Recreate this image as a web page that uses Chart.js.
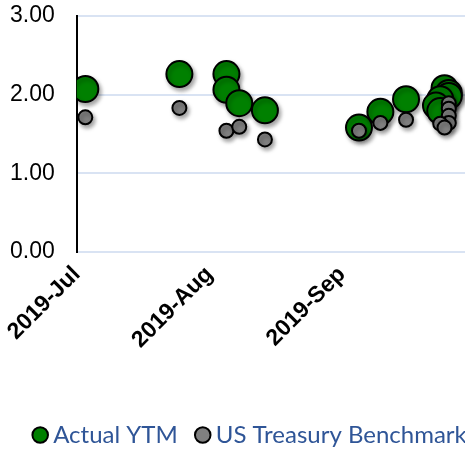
<!DOCTYPE html>
<html>
<head>
<meta charset="utf-8">
<script src="https://cdn.jsdelivr.net/npm/chart.js@4.4.1/dist/chart.umd.min.js"></script>
<style>
  html, body { margin: 0; padding: 0; background: #fff; overflow: hidden; }
  #wrap { width: 465px; height: 450px; overflow: hidden; }
</style>
</head>
<body>
<div id="wrap"><canvas id="chart" width="498" height="450"></canvas></div>
<script>
// ── Axis ticks: first day of each month, counted in days from 2019-07-01
const MONTH_TICKS  = [0, 31, 62];
const MONTH_LABELS = ['2019-Jul', '2019-Aug', '2019-Sep'];
const Y_TICKS      = [0, 1, 2, 3];

// ── Actual YTM (green)
const ytmDates = [
  '2019-07-03', '2019-07-25', '2019-08-05', '2019-08-05', '2019-08-08', '2019-08-14',
  '2019-09-05', '2019-09-10', '2019-09-16',
  '2019-09-25', '2019-09-26', '2019-09-26', '2019-09-24', '2019-09-23', '2019-09-24'
];
const ytmValues = [
  2.07, 2.26, 2.26, 2.06, 1.89, 1.80,
  1.58, 1.78, 1.94,
  2.08, 2.02, 1.98, 1.94, 1.86, 1.79
];

// ── US Treasury Benchmark (grey)
const ustDates = [
  '2019-07-03', '2019-07-25', '2019-08-05', '2019-08-08', '2019-08-14',
  '2019-09-05', '2019-09-10', '2019-09-16',
  '2019-09-26', '2019-09-26', '2019-09-26', '2019-09-26', '2019-09-24', '2019-09-25'
];
const ustValues = [
  1.71, 1.83, 1.54, 1.59, 1.43,
  1.54, 1.64, 1.68,
  1.89, 1.82, 1.73, 1.64, 1.63, 1.58
];

const DAY0 = Date.UTC(2019, 6, 1);
const toDay = s => {
  const [y, m, d] = s.split('-').map(Number);
  return (Date.UTC(y, m - 1, d) - DAY0) / 86400000;
};
const toPoints = (dates, values) => dates.map((d, i) => ({ x: toDay(d), y: values[i] }));

// soft drop shadow under the markers, like the office chart
const shadowPlugin = {
  id: 'markerShadow',
  beforeDatasetsDraw(chart) {
    const ctx = chart.ctx;
    ctx.save();
    ctx.shadowColor = 'rgba(0,0,0,0.35)';
    ctx.shadowBlur = 4;
    ctx.shadowOffsetX = 2;
    ctx.shadowOffsetY = 3;
  },
  afterDatasetsDraw(chart) {
    chart.ctx.restore();
  }
};

new Chart(document.getElementById('chart'), {
  type: 'scatter',
  data: {
    datasets: [
      {
        label: 'Actual YTM',
        data: toPoints(ytmDates, ytmValues),
        backgroundColor: '#008000',
        borderColor: '#000',
        borderWidth: 2,
        pointRadius: 13,
        pointHoverRadius: 13,
        order: 1
      },
      {
        label: 'US Treasury Benchmark',
        data: toPoints(ustDates, ustValues),
        backgroundColor: '#808080',
        borderColor: '#000',
        borderWidth: 2,
        pointRadius: 7,
        pointHoverRadius: 7,
        order: 0
      }
    ]
  },
  plugins: [shadowPlugin],
  options: {
    responsive: false,
    animation: false,
    layout: { padding: { left: 8, top: 0, right: 0, bottom: -7 } },
    plugins: {
      tooltip: { enabled: false },
      legend: {
        position: 'bottom',
        labels: {
          usePointStyle: true,
          pointStyle: 'circle',
          boxWidth: 2,
          boxHeight: 11,
          padding: 24,
          color: '#2f5597',
          font: { family: 'Lato', size: 24 },
          sort: (a, b) => a.datasetIndex - b.datasetIndex
        }
      }
    },
    scales: {
      x: {
        type: 'linear',
        min: 0,
        max: 95,
        grid: { display: false, drawTicks: false },
        border: { display: false },
        afterBuildTicks: s => { s.ticks = MONTH_TICKS.map(v => ({ value: v })); },
        afterFit: s => { s.height = 147; },
        ticks: {
          minRotation: 45,
          maxRotation: 45,
          padding: 9,
          color: '#000',
          font: { family: 'Liberation Sans', size: 23, weight: 'bold' },
          callback: v => MONTH_LABELS[MONTH_TICKS.indexOf(v)]
        }
      },
      y: {
        min: 0,
        max: 3,
        afterBuildTicks: s => { s.ticks = Y_TICKS.map(v => ({ value: v })); },
        grid: { color: '#d9e3f3', lineWidth: 2, drawTicks: true, tickLength: 20, tickColor: 'rgba(0,0,0,0)' },
        border: { display: true, color: '#000', width: 2 },
        ticks: {
          padding: 2,
          color: '#000',
          font: { family: 'Liberation Sans', size: 23 },
          callback: v => v.toFixed(2)
        }
      }
    }
  }
});
</script>
</body>
</html>
